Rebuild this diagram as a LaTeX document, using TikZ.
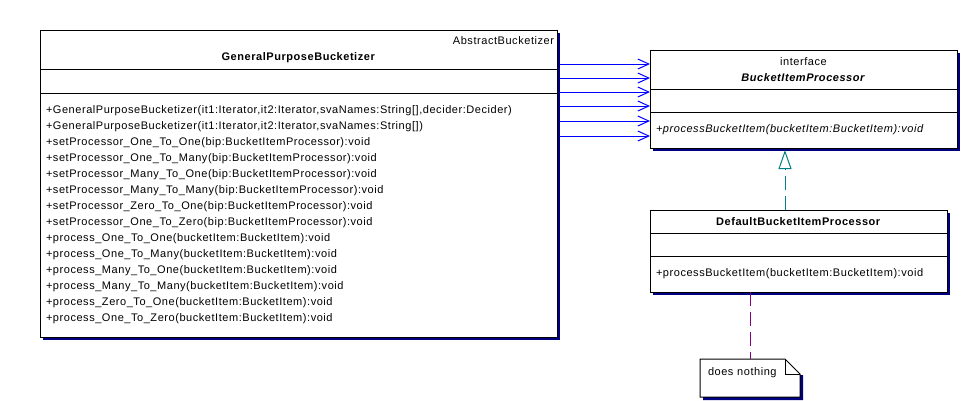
\documentclass[tikz,border=0pt]{standalone}
\usepackage{fontspec}
\setmainfont{Liberation Sans}[LetterSpace=5]
\usepackage{xcolor}
\usepackage{tikz}
\usetikzlibrary{positioning,arrows.meta,shadows}
\definecolor{umlnavy}{RGB}{0,0,128}
\definecolor{umlteal}{RGB}{0,128,128}
\definecolor{umlpurple}{RGB}{128,0,128}
\definecolor{umlblue}{RGB}{0,0,255}

\begin{document}
\begin{tikzpicture}[x=1pt, y=-1pt,
                every node/.style={font=\fontsize{11}{16}\selectfont},
                classnode/.style={rectangle, draw=black, fill=white, line width=1pt, outer sep=0pt, inner xsep=6pt,
                    drop shadow={shadow xshift=3pt, shadow yshift=-3pt, fill=umlnavy, opacity=1}},
                notenode/.style={rectangle, outer sep=0pt, inner xsep=8pt, minimum width=100pt, minimum height=38pt, text width=84pt, align=left, text depth=12pt},
                arrow/.style={umlblue, line width=1pt, -{Straight Barb[length=11pt, width=10pt]}},
                realize/.style={umlteal, line width=1pt, dash pattern=on 14pt off 6pt, -{Triangle[open, length=19pt, width=13pt, fill=white]}},
                notelink/.style={umlpurple, line width=1pt, dash pattern=on 14pt off 6pt}
                ]
                \useasboundingbox (0,0) rectangle (971,400);
                % GeneralPurposeBucketizer
                \node[classnode, anchor=north west, minimum width=517pt, minimum height=39pt, text width=511pt, inner xsep=3pt, align=center] (gpbHead) at (40,30) {\hfill AbstractBucketizer\\ \textbf{GeneralPurposeBucketizer}};
                \node[classnode, minimum width=517pt, minimum height=24pt] (gpbAttr) [below=0pt of gpbHead] {};
                \node[classnode, minimum height=244pt, text width=505pt, align=left] (gpbOps) [below=0pt of gpbAttr] {+GeneralPurposeBucketizer(it1:Iterator,it2:Iterator,svaNames:String[],decider:Decider)\\
                    +GeneralPurposeBucketizer(it1:Iterator,it2:Iterator,svaNames:String[])\\
                    +setProcessor\_One\_To\_One(bip:BucketItemProcessor):void\\
                    +setProcessor\_One\_To\_Many(bip:BucketItemProcessor):void\\
                    +setProcessor\_Many\_To\_One(bip:BucketItemProcessor):void\\
                    +setProcessor\_Many\_To\_Many(bip:BucketItemProcessor):void\\
                    +setProcessor\_Zero\_To\_One(bip:BucketItemProcessor):void\\
                    +setProcessor\_One\_To\_Zero(bip:BucketItemProcessor):void\\
                    +process\_One\_To\_One(bucketItem:BucketItem):void\\
                    +process\_One\_To\_Many(bucketItem:BucketItem):void\\
                    +process\_Many\_To\_One(bucketItem:BucketItem):void\\
                    +process\_Many\_To\_Many(bucketItem:BucketItem):void\\
                    +process\_Zero\_To\_One(bucketItem:BucketItem):void\\
                    +process\_One\_To\_Zero(bucketItem:BucketItem):void};
                % BucketItemProcessor
                \node[classnode, anchor=north west, minimum width=307pt, minimum height=39pt, text width=301pt, inner xsep=3pt, align=center] (ifHead) at (650,50) {interface\\ \textbf{\textit{BucketItemProcessor}}};
                \node[classnode, minimum width=307pt, minimum height=23pt] (ifAttr) [below=0pt of ifHead] {};
                \node[classnode, minimum height=36pt, text width=295pt, align=left] (ifOps) [below=0pt of ifAttr] {\textit{+processBucketItem(bucketItem:BucketItem):void}};
                % DefaultBucketItemProcessor
                \node[classnode, minimum width=297pt, minimum height=23pt] (defHead) [below right=62pt and 0pt of ifOps.south west] {\textbf{DefaultBucketItemProcessor}};
                \node[classnode, minimum width=297pt, minimum height=23pt] (defAttr) [below=0pt of defHead] {};
                \node[classnode, minimum height=36pt, text width=285pt, align=left] (defOps) [below=0pt of defAttr] {+processBucketItem(bucketItem:BucketItem):void};
                % note
                \node[notenode] (note) at (750,378) {does nothing};
                \fill[umlnavy] ([shift={(3,0)}]note.south west) -- ([shift={(3,3)}]note.south west) -- ([shift={(3,3)}]note.south east) -- ([shift={(3,16)}]note.north east) -- ([shift={(0,16)}]note.north east) -- (note.south east) -- cycle;
                \draw[line width=1pt] (note.north west) -- ([xshift=-15pt]note.north east) -- ([yshift=-15pt]note.north east) -- (note.south east) -- (note.south west) -- cycle;
                \draw[line width=1pt] ([xshift=-15pt]note.north east) |- ([yshift=-15pt]note.north east);
                % connectors
                \foreach \y in {64,78,92,106,121,136}
                    \draw[arrow] ([xshift=3pt]gpbHead.east |- 0,\y) -- (ifHead.west |- 0,\y);
                \draw[realize] ([xshift=-13.5pt]defHead.north) -- ([xshift=-13.5pt, yshift=-2pt]defHead.north |- ifOps.south);
                \draw[notelink] (defOps.south -| note.north) -- (note.north);
\end{tikzpicture}
\end{document}
